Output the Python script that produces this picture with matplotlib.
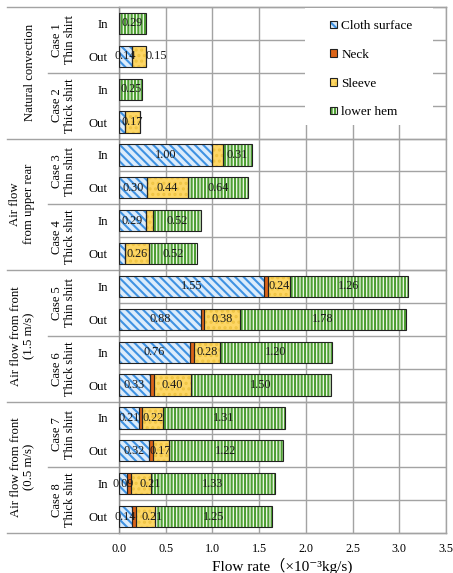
import matplotlib
matplotlib.use("Agg")
import matplotlib.pyplot as plt
import matplotlib.transforms as mtransforms
from matplotlib.patches import Patch, Rectangle
from matplotlib.lines import Line2D
import numpy as np

plt.rcParams['font.family'] = ['Liberation Serif', 'DejaVu Serif', 'Noto Sans CJK JP']
plt.rcParams['hatch.linewidth'] = 1.5

# ---- data -----------------------------------------------------------------
conditions = ["Natural convection",
              "Air flow\nfrom upper rear",
              "Air flow from front\n(1.5 m/s)",
              "Air flow from front\n(0.5 m/s)"]
cases = ["Case 1\nThin shirt", "Case 2\nThick shirt",
         "Case 3\nThin shirt", "Case 4\nThick shirt",
         "Case 5\nThin shirt", "Case 6\nThick shirt",
         "Case 7\nThin shirt", "Case 8\nThick shirt"]
directions = ["In", "Out"]
series_names = ["Cloth surface", "Neck", "Sleeve", "lower hem"]

# one value per row, top to bottom: Case 1 In, Case 1 Out, Case 2 In, ...
cloth_surface = [0.00, 0.14, 0.00, 0.06, 1.00, 0.30, 0.29, 0.06,
                 1.55, 0.88, 0.76, 0.33, 0.21, 0.32, 0.09, 0.14]
neck = [0.00, 0.00, 0.00, 0.00, 0.00, 0.00, 0.00, 0.00,
        0.04, 0.03, 0.04, 0.04, 0.04, 0.04, 0.04, 0.04]
sleeve = [0.00, 0.15, 0.00, 0.17, 0.11, 0.44, 0.07, 0.26,
          0.24, 0.38, 0.28, 0.40, 0.22, 0.17, 0.21, 0.21]
lower_hem = [0.29, 0.00, 0.25, 0.00, 0.31, 0.64, 0.52, 0.52,
             1.26, 1.78, 1.20, 1.50, 1.31, 1.22, 1.33, 1.25]

x_ticks = [0.0, 0.5, 1.0, 1.5, 2.0, 2.5, 3.0, 3.5]

# ---- styling ----------------------------------------------------------------
face_colors = ['#dcecfb', '#dc6418', '#fdd665', '#f0f8ea']
hatch_colors = ['#3f92e2', '#dc6418', '#efc443', '#4e9f33']
hatches = ['\\\\\\\\', None, '...', '|||||']
outline = '#222222'
grid_col = '#a3a3a3'

# labels that are left off (series index, row index) and labels nudged sideways
hidden_labels = {(0, 3), (0, 7), (2, 4), (2, 6)}
label_shift_pt = {(2, 1): 12, (2, 14): 7, (2, 15): 5}

values = np.array([cloth_surface, neck, sleeve, lower_hem])
n_rows = values.shape[1]
rows = np.arange(n_rows) + 0.5

fig = plt.figure(figsize=(4.53, 5.73), dpi=100)
ax = fig.add_axes([119 / 453, 1 - 533 / 573, 327 / 453, 526 / 573])
ax.set_xlim(0, 3.5)
ax.set_ylim(n_rows, 0)

# grid
for xv in x_ticks:
    ax.axvline(xv, color=grid_col, lw=1.0, zorder=0.5)
for yv in range(1, n_rows):
    ax.axhline(yv, color=grid_col, lw=1.0, zorder=0.5)

# stacked bars
left = np.zeros(n_rows)
bar_h = 0.65
for k in range(4):
    ax.barh(rows, values[k], left=left, height=bar_h,
            facecolor=face_colors[k], edgecolor=hatch_colors[k],
            hatch=hatches[k], linewidth=0, zorder=2)
    ax.barh(rows, values[k], left=left, height=bar_h, fill=False,
            edgecolor=outline, linewidth=0.8, zorder=3)
    for i in range(n_rows):
        v = values[k][i]
        if k == 1 or v <= 0 or (k, i) in hidden_labels:
            continue
        ax.annotate(f"{v:.2f}", (left[i] + v / 2, rows[i]),
                    xytext=(label_shift_pt.get((k, i), 0), 0),
                    textcoords='offset points', ha='center', va='center',
                    fontsize=8.8, color='#1a1a1a', zorder=4)
    left = left + values[k]

# axes frame
for sp in ax.spines.values():
    sp.set_color(grid_col)
    sp.set_linewidth(1.0)
ax.spines['left'].set_color('#8a8a8a')

ax.set_yticks(rows)
ax.set_yticklabels(directions * (n_rows // 2), fontsize=9.2)
ax.set_xticks(x_ticks)
ax.set_xticklabels([f"{t:.1f}" for t in x_ticks], fontsize=8.7)
ax.tick_params(axis='both', length=0)
ax.tick_params(axis='y', pad=8)
ax.tick_params(axis='x', pad=7)
ax.set_xlabel("Flow rate（×10⁻³kg/s)", fontsize=11, labelpad=2)

# multi-level category labels and separators
trans = mtransforms.blended_transform_factory(ax.transAxes, ax.transData)
x_group_line = -0.3425
x_case_line = -0.217
for yv in [0, 4, 8, 12, 16]:
    ax.add_line(Line2D([x_group_line, 1], [yv, yv], transform=trans,
                       color=grid_col, lw=1.0, clip_on=False, zorder=1))
for yv in [2, 6, 10, 14]:
    ax.add_line(Line2D([x_case_line, 0], [yv, yv], transform=trans,
                       color=grid_col, lw=1.0, clip_on=False, zorder=1))

for c, name in enumerate(cases):
    ax.text(-0.170, 2 * c + 1, name, transform=trans, rotation=90,
            ha='center', va='center', multialignment='center',
            fontsize=9, linespacing=1.2)

group_x = [-0.272, -0.296, -0.294, -0.294]
for g, name in enumerate(conditions):
    ax.text(group_x[g], 4 * g + 2, name, transform=trans, rotation=90,
            ha='center', va='center', multialignment='center',
            fontsize=9.2, linespacing=1.2)

# legend on a white panel
ax.add_patch(Rectangle((0.569, 0.776), 0.960 - 0.569, 0.998 - 0.776,
                       transform=ax.transAxes, facecolor='white',
                       edgecolor='none', zorder=4, clip_on=False))
handles = []
for k in range(4):
    handles.append((Patch(facecolor=face_colors[k], edgecolor=hatch_colors[k],
                          hatch=hatches[k], linewidth=0),
                    Patch(fill=False, edgecolor=outline, linewidth=0.8)))
leg = ax.legend(handles, series_names, loc='upper left',
                bbox_to_anchor=(0.645, 0.975), frameon=False,
                borderpad=0, borderaxespad=0, handlelength=0.5,
                handleheight=0.5, handletextpad=0.35, labelspacing=1.27,
                fontsize=9.5)
leg.set_zorder(5)

fig.savefig("out.png", dpi=100)
